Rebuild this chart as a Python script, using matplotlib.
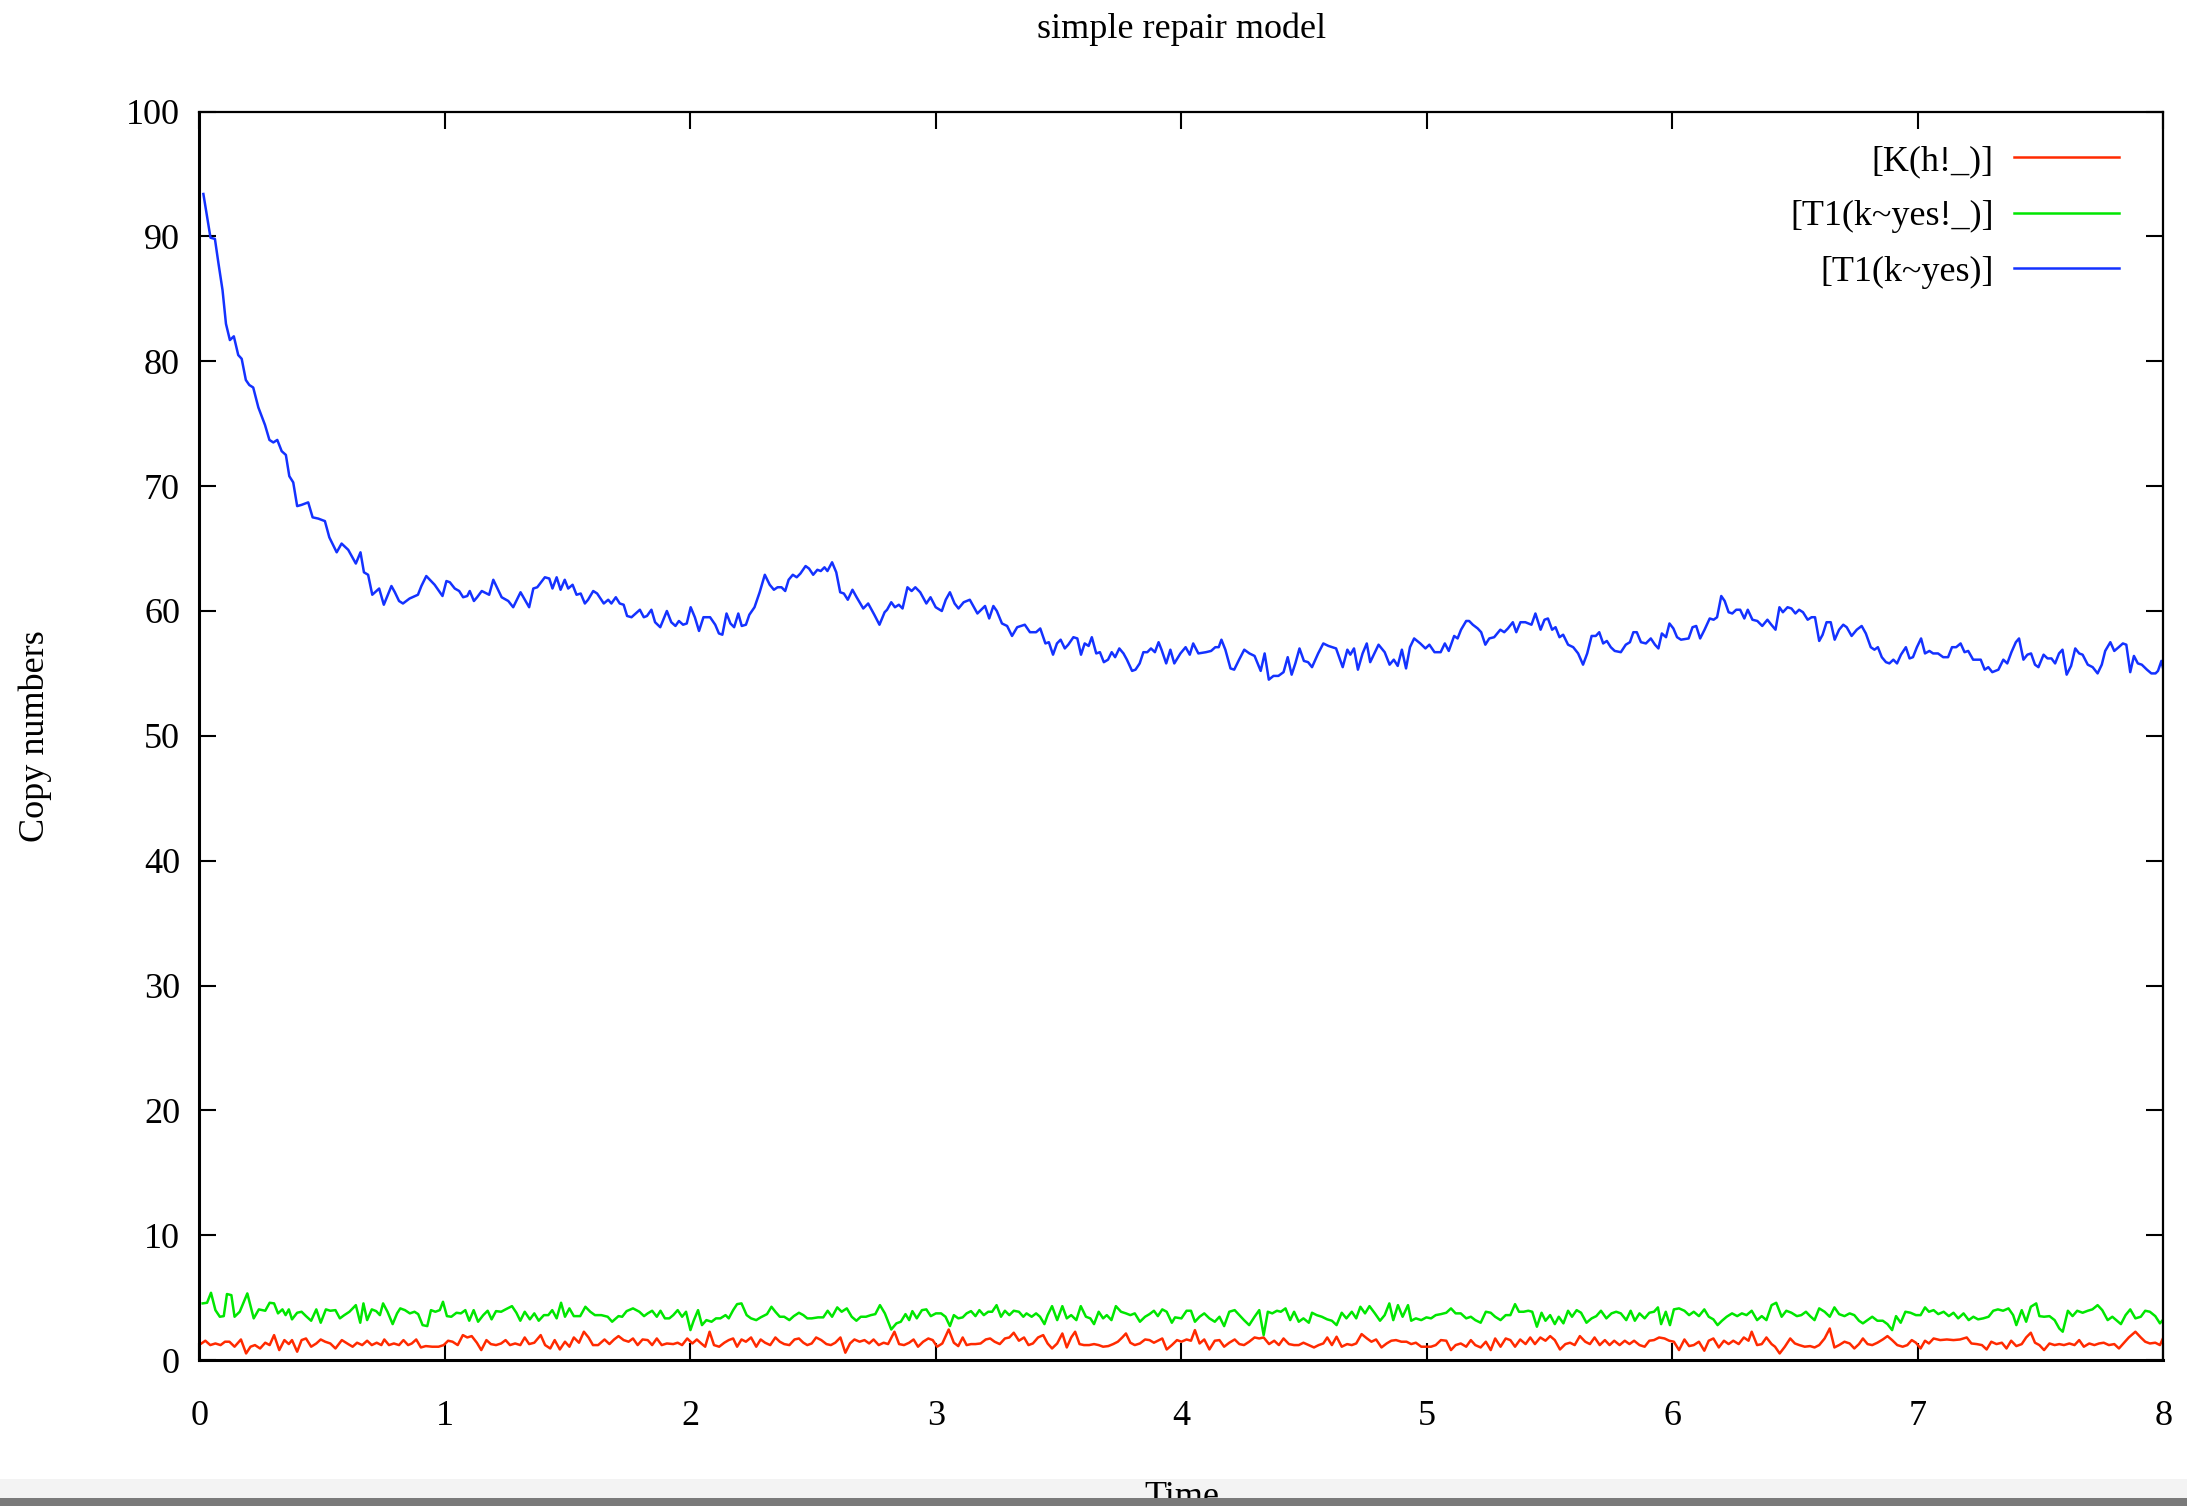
import matplotlib
matplotlib.use("Agg")
import matplotlib.pyplot as plt
from matplotlib.patches import Rectangle

plt.rcParams['font.family'] = ['Liberation Serif', 'DejaVu Serif']

# --- data ---
title = "simple repair model"
series_labels = ["[K(h!_)]", "[T1(k~yes!_)]", "[T1(k~yes)]"]
x_ticks = [0, 1, 2, 3, 4, 5, 6, 7, 8]
y_ticks = [0, 10, 20, 30, 40, 50, 60, 70, 80, 90, 100]

t_blue = [
    0.016, 0.045, 0.063, 0.077, 0.094, 0.108, 0.124, 0.140, 0.158, 0.172, 0.189, 0.203, 0.219, 0.240,
    0.267, 0.285, 0.301, 0.317, 0.335, 0.352, 0.366, 0.382, 0.398, 0.416, 0.443, 0.461, 0.484, 0.511,
    0.529, 0.559, 0.579, 0.606, 0.637, 0.656, 0.670, 0.687, 0.704, 0.732, 0.751, 0.782, 0.796, 0.813,
    0.829, 0.856, 0.890, 0.904, 0.924, 0.958, 0.990, 1.006, 1.020, 1.040, 1.058, 1.074, 1.091, 1.101,
    1.118, 1.131, 1.150, 1.180, 1.197, 1.231, 1.258, 1.278, 1.308, 1.343, 1.360, 1.376, 1.407, 1.425,
    1.438, 1.455, 1.471, 1.488, 1.502, 1.520, 1.536, 1.553, 1.570, 1.583, 1.604, 1.620, 1.647, 1.665,
    1.678, 1.696, 1.712, 1.728, 1.742, 1.760, 1.794, 1.810, 1.823, 1.841,
    1.856, 1.877, 1.904, 1.922, 1.939, 1.953, 1.970, 1.985, 2.001, 2.018, 2.035, 2.053, 2.080, 2.101,
    2.116, 2.130, 2.147, 2.163, 2.178, 2.195, 2.209, 2.226, 2.240, 2.261, 2.282, 2.303, 2.323, 2.340,
    2.355, 2.371, 2.386, 2.400, 2.417, 2.433, 2.448, 2.469, 2.483, 2.500, 2.517, 2.531, 2.546, 2.558,
    2.577, 2.594, 2.610, 2.625, 2.641, 2.660, 2.677, 2.704, 2.724, 2.749, 2.770, 2.791, 2.801, 2.818,
    2.833, 2.849, 2.864, 2.884, 2.901, 2.916, 2.936, 2.961, 2.978, 2.999, 3.024, 3.040, 3.057, 3.076,
    3.092, 3.113, 3.138, 3.169, 3.200, 3.217, 3.234, 3.248, 3.269, 3.290, 3.310, 3.331, 3.362, 3.383,
    3.408, 3.425, 3.446, 3.460, 3.477, 3.493, 3.508, 3.525, 3.539, 3.560, 3.576, 3.591, 3.606, 3.622,
    3.635, 3.653, 3.668, 3.684, 3.701, 3.716, 3.730, 3.747, 3.764, 3.778, 3.799, 3.813, 3.830, 3.845,
    3.861, 3.876, 3.892, 3.907, 3.919, 3.938, 3.955, 3.971, 3.996, 4.017, 4.034, 4.048, 4.069, 4.100,
    4.121, 4.138, 4.152, 4.163, 4.179, 4.200, 4.215, 4.235, 4.256, 4.277, 4.298, 4.323, 4.339, 4.356,
    4.375, 4.395, 4.416, 4.433, 4.449, 4.464, 4.481, 4.499, 4.516, 4.532, 4.557, 4.578, 4.599, 4.630,
    4.657, 4.676, 4.688, 4.703, 4.719, 4.738, 4.755, 4.769, 4.803, 4.828, 4.848, 4.865, 4.881, 4.898,
    4.915, 4.931, 4.948, 4.973, 4.994, 5.010, 5.031, 5.056, 5.073, 5.089,
    5.111, 5.125, 5.139, 5.160, 5.172, 5.187, 5.207, 5.221, 5.238, 5.254, 5.274, 5.299, 5.315, 5.330,
    5.350, 5.364, 5.381, 5.401, 5.426, 5.442, 5.463, 5.479, 5.493, 5.510, 5.524, 5.540, 5.555, 5.575,
    5.596, 5.616, 5.636, 5.653, 5.671, 5.688, 5.702, 5.718, 5.733, 5.749, 5.765, 5.790, 5.810, 5.827,
    5.841, 5.855, 5.872, 5.892, 5.912, 5.929, 5.943, 5.957, 5.974, 5.988, 6.004, 6.019, 6.035, 6.066,
    6.082, 6.097, 6.113, 6.131, 6.152, 6.168, 6.182, 6.199, 6.213, 6.229, 6.244, 6.260, 6.276, 6.293,
    6.307, 6.326, 6.346, 6.366, 6.387, 6.403, 6.420, 6.436, 6.450, 6.469, 6.485, 6.501, 6.516, 6.532,
    6.551, 6.567, 6.581, 6.598, 6.612, 6.628, 6.645, 6.661, 6.679, 6.696, 6.710, 6.730, 6.751, 6.771,
    6.788, 6.808, 6.823, 6.837, 6.853, 6.870, 6.884, 6.900, 6.915, 6.931, 6.951, 6.966, 6.980, 6.996,
    7.013, 7.029, 7.047, 7.062, 7.082, 7.103, 7.123, 7.139, 7.156, 7.174, 7.190, 7.205, 7.225, 7.256,
    7.272, 7.287, 7.303, 7.328, 7.348, 7.364, 7.381, 7.399, 7.412, 7.430, 7.446, 7.461, 7.477, 7.491,
    7.512, 7.528, 7.544, 7.559, 7.575, 7.589, 7.606, 7.624, 7.641, 7.657, 7.671, 7.692, 7.712, 7.732,
    7.749, 7.763, 7.784, 7.800, 7.818, 7.835, 7.849, 7.865, 7.880, 7.896, 7.912, 7.933, 7.951, 7.968,
    7.978, 7.992, 8.000]
v_blue = [
    93.4, 89.9, 89.8, 87.9, 85.7, 83.0, 81.7, 82.0, 80.5, 80.2, 78.5, 78.1, 77.9, 76.3,
    74.9, 73.7, 73.5, 73.7, 72.8, 72.5, 70.8, 70.3, 68.4, 68.5, 68.7, 67.5, 67.4, 67.2,
    65.9, 64.7, 65.4, 64.9, 63.8, 64.7, 63.1, 62.9, 61.3, 61.8, 60.5, 62.0, 61.5, 60.8,
    60.6, 61.0, 61.3, 62.0, 62.8, 62.1, 61.2, 62.4, 62.3, 61.8, 61.6, 61.1, 61.2, 61.6,
    60.8, 61.1, 61.6, 61.3, 62.5, 61.1, 60.8, 60.3, 61.5, 60.3, 61.8, 61.9, 62.7, 62.6,
    61.8, 62.7, 61.7, 62.5, 61.8, 62.1, 61.3, 61.4, 60.6, 60.9, 61.6, 61.4, 60.6, 60.9,
    60.6, 61.1, 60.6, 60.5, 59.6, 59.5, 60.1, 59.5, 59.6, 60.1,
    59.1, 58.7, 60.0, 59.1, 58.8, 59.2, 58.9, 59.0, 60.3, 59.5, 58.4, 59.5, 59.5, 58.9,
    58.2, 58.1, 59.8, 59.0, 58.7, 59.8, 58.8, 58.9, 59.7, 60.3, 61.5, 62.9, 62.1, 61.7,
    61.9, 61.9, 61.6, 62.5, 62.9, 62.7, 63.0, 63.6, 63.4, 62.9, 63.3, 63.2, 63.5, 63.2,
    63.9, 63.1, 61.5, 61.4, 60.9, 61.7, 61.1, 60.2, 60.6, 59.7, 58.9, 59.9, 60.1, 60.7,
    60.3, 60.5, 60.2, 61.9, 61.6, 61.9, 61.5, 60.6, 61.1, 60.3, 60.0, 60.9, 61.5, 60.6,
    60.2, 60.7, 60.9, 59.8, 60.4, 59.4, 60.4, 60.0, 59.0, 58.8, 58.0, 58.7, 58.9, 58.3,
    58.3, 58.6, 57.4, 57.5, 56.5, 57.4, 57.7, 57.0, 57.3, 57.9, 57.8, 56.5, 57.4, 57.2,
    57.9, 56.6, 56.7, 55.9, 56.1, 56.7, 56.3, 57.0, 56.6, 56.1, 55.2, 55.3, 55.8, 56.7,
    56.7, 57.0, 56.7, 57.5, 56.9, 55.8, 56.9, 55.8, 56.6, 57.1, 56.5, 57.4, 56.6, 56.7,
    56.8, 57.1, 57.1, 57.7, 56.9, 55.4, 55.3, 56.1, 56.9, 56.6, 56.4, 55.2, 56.6, 54.5,
    54.8, 54.8, 55.1, 56.3, 54.9, 55.8, 57.0, 56.0, 55.9, 55.5, 56.6, 57.4, 57.2, 57.0,
    55.5, 56.9, 56.5, 57.0, 55.3, 56.6, 57.4, 55.9, 57.3, 56.7, 55.7, 56.1, 55.6, 56.9,
    55.4, 57.1, 57.8, 57.4, 57.0, 57.3, 56.7, 56.7, 57.4, 56.8,
    58.0, 57.8, 58.5, 59.2, 59.2, 58.9, 58.6, 58.3, 57.3, 57.8, 57.9, 58.5, 58.3, 58.6,
    59.1, 58.3, 59.1, 59.1, 58.9, 59.8, 58.5, 59.3, 59.4, 58.5, 58.7, 57.9, 58.1, 57.3,
    57.1, 56.6, 55.7, 56.6, 58.0, 58.0, 58.3, 57.4, 57.6, 57.1, 56.8, 56.7, 57.3, 57.5,
    58.3, 58.3, 57.5, 57.4, 57.8, 57.3, 57.0, 58.2, 57.9, 59.0, 58.6, 57.9, 57.7, 57.8,
    58.7, 58.8, 57.8, 58.5, 59.4, 59.3, 59.5, 61.2, 60.8, 59.9, 59.8, 60.1, 60.1, 59.4,
    60.1, 59.3, 59.2, 58.8, 59.3, 58.9, 58.5, 60.3, 59.9, 60.3, 60.2, 59.8, 60.1, 59.9,
    59.3, 59.5, 59.5, 57.6, 58.1, 59.1, 59.1, 57.7, 58.5, 58.9, 58.7, 58.0, 58.5, 58.8,
    58.2, 57.1, 56.9, 57.1, 56.3, 55.9, 55.8, 56.1, 55.8, 56.5, 57.1, 56.2, 56.3, 57.1,
    57.8, 56.6, 56.8, 56.6, 56.6, 56.3, 56.3, 57.1, 57.1, 57.4, 56.7, 56.8, 56.1, 56.1,
    55.3, 55.5, 55.1, 55.3, 56.1, 55.8, 56.7, 57.5, 57.8, 56.1, 56.5, 56.6, 55.7, 55.5,
    56.5, 56.2, 56.2, 55.8, 56.6, 56.9, 54.9, 55.6, 57.0, 56.6, 56.5, 55.7, 55.5, 55.0,
    55.7, 56.8, 57.5, 56.8, 57.1, 57.4, 57.3, 55.1, 56.4, 55.8, 55.7, 55.3, 55.0, 55.0,
    55.2, 56.0, 55.3]

t_green = [
    0.013, 0.031, 0.047, 0.065, 0.083, 0.099, 0.112, 0.130, 0.143, 0.164, 0.195, 0.221, 0.242, 0.268,
    0.286, 0.304, 0.320, 0.338, 0.351, 0.364, 0.377, 0.398, 0.416, 0.434, 0.455, 0.476, 0.494, 0.515,
    0.533, 0.554, 0.572, 0.590, 0.611, 0.637, 0.655, 0.668, 0.683, 0.702, 0.720, 0.735, 0.748, 0.766,
    0.787, 0.805, 0.818, 0.837, 0.857, 0.876, 0.891, 0.909, 0.928, 0.943, 0.961, 0.979, 0.992, 1.008,
    1.026, 1.047, 1.065, 1.083, 1.099, 1.117, 1.135, 1.156, 1.174, 1.190, 1.208, 1.229, 1.247, 1.273,
    1.291, 1.307, 1.325, 1.346, 1.364, 1.382, 1.403, 1.421, 1.437, 1.455, 1.473, 1.489, 1.507, 1.525,
    1.551, 1.572, 1.592, 1.611, 1.637, 1.663, 1.681, 1.707, 1.722, 1.740, 1.766, 1.792, 1.811, 1.826,
    1.844, 1.863, 1.878, 1.896, 1.914, 1.930, 1.948, 1.966, 1.982, 2.000, 2.013, 2.031, 2.047, 2.065,
    2.086, 2.104, 2.122, 2.143, 2.156, 2.174, 2.190, 2.208, 2.229, 2.247, 2.268, 2.286, 2.312, 2.330,
    2.346, 2.364, 2.382, 2.403, 2.421, 2.442, 2.460, 2.476, 2.494, 2.520, 2.541, 2.559, 2.577, 2.598,
    2.616, 2.637, 2.657, 2.676, 2.694, 2.715, 2.735, 2.753, 2.772, 2.792, 2.818, 2.839, 2.857, 2.876,
    2.891, 2.904, 2.922, 2.943, 2.961, 2.979, 3.000, 3.021, 3.039, 3.057, 3.073, 3.091, 3.109, 3.125,
    3.143, 3.161, 3.177, 3.195, 3.213, 3.229, 3.247, 3.265, 3.281, 3.299, 3.317, 3.338, 3.356, 3.369,
    3.390, 3.408, 3.424, 3.442, 3.455, 3.473, 3.494, 3.515, 3.533, 3.551, 3.572, 3.590, 3.611, 3.629,
    3.644, 3.663, 3.681, 3.696, 3.715, 3.733, 3.754, 3.774, 3.792, 3.810, 3.831, 3.852, 3.870, 3.888,
    3.904, 3.922, 3.940, 3.961, 3.974, 4.000, 4.021,
    4.039, 4.055, 4.074, 4.093, 4.114, 4.136, 4.155, 4.174, 4.195, 4.217, 4.236, 4.255, 4.276, 4.298,
    4.317, 4.335, 4.352, 4.370, 4.389, 4.405, 4.424, 4.443, 4.459, 4.478, 4.497, 4.519, 4.532, 4.551,
    4.572, 4.594, 4.613, 4.632, 4.653, 4.672, 4.694, 4.712, 4.729, 4.748, 4.766, 4.788, 4.809, 4.828,
    4.847, 4.863, 4.882, 4.901, 4.923, 4.936, 4.955, 4.977, 4.998, 5.017, 5.036, 5.057, 5.079, 5.098,
    5.117, 5.138, 5.160, 5.179, 5.197, 5.219, 5.240, 5.260, 5.278, 5.300, 5.321, 5.340, 5.359, 5.375,
    5.394, 5.413, 5.429, 5.448, 5.467, 5.483, 5.502, 5.521, 5.537, 5.556, 5.575, 5.591, 5.610, 5.628,
    5.650, 5.671, 5.690, 5.709, 5.731, 5.752, 5.771, 5.790, 5.812, 5.830, 5.847, 5.866, 5.887, 5.906,
    5.925, 5.941, 5.954, 5.973, 5.990, 6.006, 6.027, 6.049, 6.068, 6.087, 6.108, 6.130, 6.148, 6.167,
    6.184, 6.202, 6.221, 6.243, 6.264, 6.283, 6.302, 6.323, 6.345, 6.364, 6.383, 6.404, 6.423, 6.445,
    6.464, 6.485, 6.507, 6.525, 6.544, 6.561, 6.579, 6.598, 6.620, 6.641, 6.660, 6.679, 6.701, 6.722,
    6.741, 6.760, 6.776, 6.795, 6.814, 6.835, 6.857, 6.876, 6.895, 6.911, 6.930, 6.949, 6.970, 6.992,
    7.011, 7.029, 7.045, 7.064, 7.083, 7.105, 7.126, 7.145, 7.164, 7.186, 7.207, 7.226, 7.245, 7.266,
    7.288, 7.307, 7.326, 7.347, 7.369, 7.388, 7.401, 7.423, 7.441, 7.460, 7.482, 7.495, 7.514, 7.536,
    7.557, 7.576, 7.590, 7.611, 7.630, 7.649, 7.671, 7.692, 7.711, 7.732, 7.751, 7.773, 7.792, 7.811,
    7.827, 7.846, 7.865, 7.886, 7.908, 7.926, 7.945, 7.967, 7.986, 8.000]
v_green = [
    4.54, 4.59, 5.39, 4.00, 3.47, 3.52, 5.29, 5.20, 3.47, 3.87, 5.34, 3.34, 4.06, 3.95,
    4.59, 4.54, 3.74, 4.06, 3.60, 4.06, 3.26, 3.79, 3.87, 3.52, 3.15, 4.06, 2.99, 4.06,
    3.95, 4.00, 3.34, 3.60, 3.87, 4.40, 2.99, 4.54, 3.20, 4.06, 3.92, 3.60, 4.54, 3.87,
    2.88, 3.74, 4.14, 4.00, 3.74, 3.87, 3.68, 2.80, 2.72, 4.00, 3.87, 4.00, 4.67, 3.52,
    3.47, 3.79, 3.74, 4.00, 3.15, 4.00, 3.07, 3.60, 3.95, 3.26, 3.92, 3.87, 4.06, 4.32,
    3.79, 3.15, 3.87, 3.26, 3.74, 3.15, 3.60, 3.60, 4.00, 3.34, 4.59, 3.47, 4.14, 3.52,
    3.52, 4.27, 3.87, 3.60, 3.60, 3.47, 3.07, 3.52, 3.47, 3.92, 4.14, 3.87, 3.52, 3.74,
    3.95, 3.47, 3.95, 3.34, 3.34, 3.60, 4.00, 3.47, 3.87, 2.40, 3.15, 4.00, 2.80, 3.20,
    3.07, 3.34, 3.34, 3.60, 3.34, 4.00, 4.48, 4.54, 3.60, 3.34, 3.20, 3.42, 3.68, 4.27,
    3.87, 3.47, 3.47, 3.20, 3.52, 3.79, 3.60, 3.34, 3.34, 3.42, 3.42, 3.95, 3.47, 4.22,
    3.87, 4.14, 3.47, 3.15, 3.47, 3.47, 3.60, 3.68, 4.40, 3.74, 2.45, 2.94, 3.07, 3.68,
    3.20, 3.92, 3.34, 4.00, 4.06, 3.52, 3.74, 3.74, 3.47, 2.72, 3.60, 3.34, 3.42, 3.74,
    3.92, 3.52, 4.00, 3.60, 3.87, 3.87, 4.40, 3.47, 3.95, 3.60, 3.95, 3.87, 3.47, 3.74,
    3.47, 3.74, 3.47, 2.88, 3.60, 4.32, 3.20, 4.32, 3.34, 3.60, 3.20, 4.32, 3.47, 3.34,
    2.88, 3.87, 3.34, 3.60, 3.20, 4.32, 3.87, 3.74, 3.60, 3.74, 3.07, 3.47, 3.68, 3.95,
    3.52, 4.06, 3.87, 2.99, 3.42, 3.34, 3.95,
    3.95, 3.07, 3.47, 3.74, 3.34, 3.07, 3.47, 2.72, 3.87, 4.00, 3.60, 3.20, 2.80, 3.47,
    4.00, 2.00, 3.87, 3.74, 3.95, 3.87, 4.14, 3.20, 3.87, 3.07, 3.34, 2.99, 3.79, 3.60,
    3.47, 3.26, 3.15, 2.80, 3.79, 3.34, 3.87, 3.34, 4.27, 3.74, 4.32, 3.74, 3.15, 3.60,
    4.54, 3.20, 4.40, 3.47, 4.40, 3.15, 3.34, 3.20, 3.42, 3.34, 3.60, 3.68, 3.79, 4.14,
    3.74, 3.74, 3.34, 3.47, 3.20, 2.99, 3.87, 3.79, 3.47, 3.20, 3.60, 3.60, 4.48, 3.87,
    3.87, 3.95, 3.87, 2.67, 3.79, 3.15, 3.60, 2.88, 3.47, 2.94, 3.95, 3.47, 4.00, 3.79,
    2.99, 3.34, 3.52, 3.95, 3.34, 3.74, 3.87, 3.74, 3.20, 3.95, 3.15, 3.74, 3.34, 3.79,
    3.87, 4.22, 2.88, 3.87, 2.80, 4.06, 4.14, 3.95, 3.60, 3.87, 3.52, 4.06, 3.47, 3.26,
    2.80, 3.15, 3.47, 3.74, 3.52, 3.74, 3.60, 3.95, 3.20, 3.52, 3.20, 4.40, 4.59, 3.47,
    3.95, 3.79, 3.52, 3.60, 3.87, 3.52, 3.20, 4.14, 3.87, 3.47, 4.22, 3.68, 3.52, 3.74,
    3.60, 3.15, 2.94, 3.20, 3.47, 3.15, 3.15, 2.88, 2.40, 3.52, 2.99, 3.87, 3.79, 3.60,
    3.60, 4.22, 3.87, 4.00, 3.68, 3.87, 3.52, 3.79, 3.34, 3.74, 3.20, 3.47, 3.26, 3.34,
    3.47, 3.95, 4.06, 3.95, 4.14, 3.60, 2.80, 4.00, 3.07, 4.27, 4.54, 3.52, 3.47, 3.52,
    3.20, 2.53, 2.27, 3.95, 3.52, 3.95, 3.79, 3.95, 4.06, 4.40, 4.00, 3.20, 3.47, 3.15,
    2.88, 3.60, 4.06, 3.34, 3.47, 3.95, 3.87, 3.52, 2.94, 3.26]

t_red = [
    0.008, 0.024, 0.044, 0.065, 0.086, 0.104, 0.122, 0.143, 0.169, 0.190, 0.208, 0.226, 0.247, 0.268,
    0.286, 0.304, 0.325, 0.346, 0.364, 0.377, 0.398, 0.416, 0.434, 0.455, 0.476, 0.494, 0.512, 0.533,
    0.554, 0.580, 0.606, 0.624, 0.642, 0.663, 0.683, 0.702, 0.722, 0.741, 0.753, 0.772, 0.792, 0.813,
    0.831, 0.850, 0.865, 0.883, 0.902, 0.922, 0.948, 0.974, 0.995, 1.013, 1.031, 1.052, 1.073, 1.091,
    1.109, 1.130, 1.148, 1.169, 1.187, 1.208, 1.229, 1.247, 1.265, 1.286, 1.307, 1.325, 1.343, 1.364,
    1.390, 1.408, 1.429, 1.447, 1.468, 1.489, 1.507, 1.525, 1.546, 1.566, 1.585, 1.603, 1.624, 1.650,
    1.670, 1.689, 1.707, 1.728, 1.748, 1.766, 1.785, 1.805, 1.826, 1.844, 1.863, 1.883, 1.904, 1.930,
    1.948, 1.966, 1.987, 2.008, 2.026, 2.044, 2.060, 2.078, 2.096, 2.117, 2.138, 2.156, 2.174, 2.190,
    2.208, 2.226, 2.247, 2.268, 2.286, 2.304, 2.325, 2.346, 2.364, 2.382, 2.403, 2.424, 2.442, 2.460,
    2.476, 2.494, 2.512, 2.533, 2.554, 2.572, 2.590, 2.611, 2.631, 2.650, 2.668, 2.689, 2.709, 2.728,
    2.746, 2.767, 2.787, 2.805, 2.831, 2.850, 2.870, 2.891, 2.909, 2.927, 2.948, 2.969, 2.987, 3.005,
    3.026, 3.052, 3.073, 3.091, 3.109, 3.125, 3.143, 3.161, 3.182, 3.203, 3.221, 3.239, 3.260, 3.281,
    3.299, 3.317, 3.338, 3.359, 3.377, 3.395, 3.416, 3.437, 3.455, 3.473, 3.494, 3.515, 3.533, 3.551,
    3.567, 3.585, 3.603, 3.624, 3.644, 3.663, 3.681, 3.702, 3.722, 3.741, 3.759, 3.774, 3.792, 3.810,
    3.831, 3.852, 3.870, 3.888, 3.904, 3.922, 3.940, 3.961, 3.982, 4.000, 4.021,
    4.039, 4.055, 4.074, 4.093, 4.114, 4.136, 4.155, 4.174, 4.195, 4.217, 4.236, 4.255, 4.276, 4.298,
    4.317, 4.335, 4.357, 4.378, 4.397, 4.416, 4.438, 4.459, 4.478, 4.497, 4.519, 4.540, 4.559, 4.578,
    4.594, 4.613, 4.632, 4.653, 4.675, 4.694, 4.712, 4.734, 4.756, 4.774, 4.793, 4.815, 4.836, 4.855,
    4.874, 4.896, 4.917, 4.936, 4.955, 4.977, 4.998, 5.017, 5.036, 5.057, 5.079, 5.098, 5.117, 5.138,
    5.160, 5.179, 5.197, 5.219, 5.240, 5.260, 5.278, 5.300, 5.321, 5.340, 5.359, 5.380, 5.402, 5.421,
    5.440, 5.462, 5.483, 5.502, 5.521, 5.542, 5.564, 5.583, 5.602, 5.623, 5.645, 5.664, 5.683, 5.704,
    5.725, 5.744, 5.763, 5.785, 5.806, 5.825, 5.844, 5.866, 5.887, 5.906, 5.925, 5.946, 5.968, 5.987,
    6.006, 6.027, 6.049, 6.068, 6.087, 6.108, 6.130, 6.148, 6.167, 6.189, 6.210, 6.229, 6.248, 6.270,
    6.291, 6.310, 6.323, 6.345, 6.364, 6.383, 6.404, 6.418, 6.437, 6.458, 6.480, 6.499, 6.517, 6.539,
    6.561, 6.579, 6.598, 6.620, 6.641, 6.660, 6.679, 6.701, 6.722, 6.741, 6.760, 6.776, 6.795, 6.814,
    6.835, 6.857, 6.876, 6.895, 6.916, 6.938, 6.957, 6.975, 6.992, 7.011, 7.029, 7.045, 7.064, 7.091,
    7.118, 7.145, 7.172, 7.199, 7.218, 7.240, 7.261, 7.280, 7.299, 7.320, 7.342, 7.361, 7.380, 7.401,
    7.423, 7.441, 7.460, 7.477, 7.495, 7.514, 7.536, 7.557, 7.576, 7.595, 7.617, 7.638, 7.657, 7.676,
    7.698, 7.719, 7.738, 7.757, 7.778, 7.800, 7.819, 7.837, 7.859, 7.886, 7.908, 7.926, 7.945, 7.967,
    7.986, 8.000]
v_red = [
    1.33, 1.55, 1.20, 1.33, 1.20, 1.47, 1.47, 1.07, 1.65, 0.53, 1.07, 1.20, 0.93, 1.39,
    1.20, 2.00, 0.80, 1.60, 1.28, 1.60, 0.67, 1.60, 1.73, 1.07, 1.33, 1.65, 1.47, 1.33,
    0.93, 1.60, 1.28, 1.07, 1.39, 1.20, 1.55, 1.20, 1.39, 1.20, 1.65, 1.20, 1.33, 1.20,
    1.60, 1.20, 1.33, 1.65, 1.01, 1.12, 1.07, 1.07, 1.20, 1.55, 1.47, 1.20, 2.00, 1.81,
    1.92, 1.39, 0.80, 1.60, 1.28, 1.20, 1.33, 1.60, 1.20, 1.33, 1.20, 1.81, 1.28, 1.39,
    2.00, 1.20, 0.93, 1.60, 0.85, 1.47, 1.07, 1.81, 1.39, 2.27, 1.81, 1.20, 1.20, 1.65,
    1.28, 1.65, 1.92, 1.60, 1.47, 1.73, 1.20, 1.65, 1.60, 1.20, 1.73, 1.20, 1.33, 1.28,
    1.39, 1.20, 1.73, 1.33, 1.65, 1.33, 1.07, 2.27, 1.20, 1.07, 1.39, 1.60, 1.73, 1.07,
    1.65, 1.47, 1.81, 1.07, 1.65, 1.39, 1.20, 1.81, 1.47, 1.28, 1.20, 1.65, 1.73, 1.39,
    1.20, 1.33, 1.81, 1.60, 1.28, 1.20, 1.39, 1.81, 0.59, 1.33, 1.65, 1.47, 1.60, 1.33,
    1.65, 1.20, 1.39, 1.28, 2.27, 1.28, 1.20, 1.39, 1.65, 1.07, 1.47, 1.73, 1.60, 1.07,
    1.33, 2.45, 1.39, 1.12, 1.81, 1.20, 1.28, 1.28, 1.33, 1.65, 1.73, 1.47, 1.28, 1.73,
    1.81, 2.19, 1.55, 1.81, 1.20, 1.33, 1.81, 2.00, 1.33, 0.93, 1.33, 2.13, 1.01, 1.81,
    2.27, 1.28, 1.20, 1.20, 1.28, 1.20, 1.07, 1.12, 1.28, 1.47, 1.81, 2.13, 1.39, 1.20,
    1.33, 1.65, 1.60, 1.39, 1.55, 1.73, 0.85, 1.20, 1.60, 1.47, 1.65,
    1.55, 2.40, 1.33, 1.65, 0.85, 1.55, 1.60, 1.07, 1.39, 1.65, 1.28, 1.20, 1.47, 1.81,
    1.73, 1.81, 1.28, 1.55, 1.20, 1.73, 1.28, 1.20, 1.20, 1.39, 1.20, 1.01, 1.20, 1.33,
    1.81, 1.20, 1.87, 1.07, 1.28, 1.20, 1.33, 2.08, 1.73, 1.47, 1.65, 1.01, 1.33, 1.55,
    1.60, 1.47, 1.47, 1.28, 1.39, 1.07, 1.07, 1.07, 1.20, 1.60, 1.55, 0.80, 1.20, 1.33,
    1.07, 1.60, 1.20, 1.01, 1.47, 0.80, 1.73, 1.07, 1.73, 1.60, 1.07, 1.65, 1.28, 1.81,
    1.28, 1.81, 1.55, 1.92, 1.60, 0.85, 1.28, 1.39, 1.20, 1.92, 1.47, 1.28, 1.81, 1.20,
    1.60, 1.20, 1.55, 1.20, 1.55, 1.28, 1.55, 1.20, 1.07, 1.55, 1.60, 1.81, 1.73, 1.55,
    1.47, 0.80, 1.65, 1.12, 1.20, 1.47, 0.75, 1.55, 1.73, 1.01, 1.55, 1.28, 1.55, 1.28,
    1.81, 1.55, 2.27, 1.20, 1.28, 1.81, 1.28, 1.07, 0.53, 1.07, 1.73, 1.33, 1.20, 1.07,
    1.12, 1.01, 1.20, 1.73, 2.53, 1.01, 1.20, 1.47, 1.33, 0.93, 1.28, 1.73, 1.28, 1.20,
    1.39, 1.65, 1.92, 1.60, 1.20, 1.07, 1.20, 1.60, 1.39, 0.93, 1.55, 1.33, 1.73, 1.60,
    1.65, 1.60, 1.65, 1.81, 1.33, 1.28, 1.20, 0.85, 1.47, 1.28, 1.39, 0.93, 1.55, 1.12,
    1.28, 1.81, 2.19, 1.39, 1.20, 0.80, 1.33, 1.20, 1.28, 1.20, 1.33, 1.20, 1.60, 1.07,
    1.33, 1.20, 1.33, 1.39, 1.20, 1.28, 0.93, 1.33, 1.81, 2.27, 1.81, 1.47, 1.33, 1.39,
    1.20, 1.81]

red = '#ff2a00'
green = '#00e600'
blue = '#1432ff'

fig = plt.figure(figsize=(21.87, 15.06), dpi=100)
ax = fig.add_axes([0.0912, 0.0969, 0.898, 0.829])

ax.plot(t_red, v_red, color=red, lw=1.8, label=series_labels[0])
ax.plot(t_green, v_green, color=green, lw=1.8, label=series_labels[1])
ax.plot(t_blue, v_blue, color=blue, lw=1.8, label=series_labels[2])

ax.set_xlim(0, 8)
ax.set_ylim(0, 100)
ax.set_xticks(x_ticks)
ax.set_yticks(y_ticks)
ax.tick_params(axis='both', which='major', direction='in', length=12, width=1.5,
               top=True, right=True, labelsize=26)
ax.tick_params(axis='y', pad=14)
ax.tick_params(axis='x', pad=29)
for side in ['left', 'bottom']:
    ax.spines[side].set_linewidth(2.2)
for side in ['top', 'right']:
    ax.spines[side].set_linewidth(1.6)

ax.set_title(title, fontsize=26, pad=53)
ax.set_ylabel("Copy numbers", fontsize=26)
ax.yaxis.set_label_coords(-0.075, 0.5)
ax.set_xlabel("Time", fontsize=26)
ax.xaxis.set_label_coords(0.5, -0.097)

ax.legend(loc='upper right', bbox_to_anchor=(0.9775, 0.9735), frameon=False,
          markerfirst=False, fontsize=26, handlelength=2.9, handletextpad=0.58,
          labelspacing=0.61, borderpad=0, borderaxespad=0)

# torn scan edge at the bottom: light wash behind the label, dark strip over it
fig.patches.append(Rectangle((0, 0), 1, 0.018, transform=fig.transFigure,
                             facecolor='#f3f3f3', edgecolor='none', zorder=-1))
fig.patches.append(Rectangle((0, 0), 1, 0.005, transform=fig.transFigure,
                             facecolor='#7a7a7a', edgecolor='none', zorder=10))

fig.savefig('out.png', dpi=100)
